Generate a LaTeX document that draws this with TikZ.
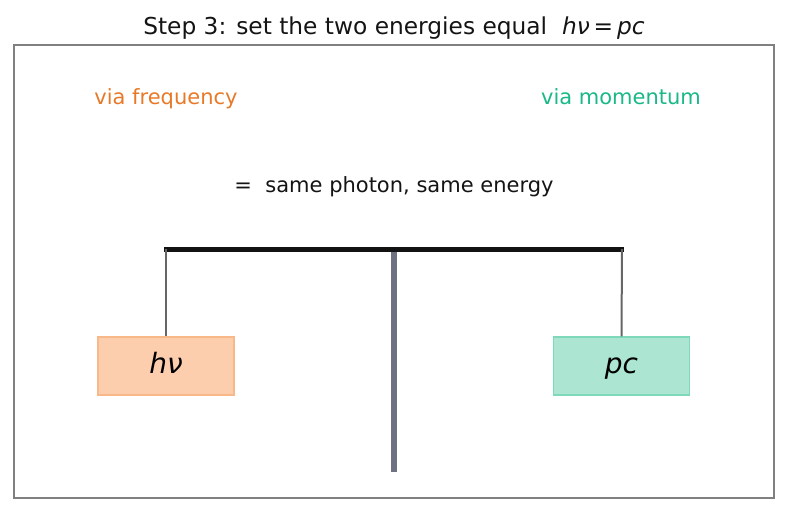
\documentclass[tikz,border=0pt]{standalone}
\usepackage{fontspec}
\setmainfont{DejaVu Sans}
\usetikzlibrary{positioning}
\definecolor{freqorange}{RGB}{232,121,40}
\definecolor{momgreen}{RGB}{26,184,135}
\definecolor{freqfill}{RGB}{252,206,174}
\definecolor{freqedge}{RGB}{248,184,136}
\definecolor{momfill}{RGB}{172,230,211}
\definecolor{momedge}{RGB}{126,216,186}
\definecolor{postgray}{RGB}{110,113,128}
\newcommand{\hnu}{\textit{hν}}
\tikzset{
  side label/.style={font=\fontsize{21}{25}\selectfont, text=#1,
    text height=16pt, text depth=5pt},
  pan box/.style={
    shape=rectangle, draw=#1edge, fill=#1fill, line width=1.2pt,
    minimum width=136pt, minimum height=58pt,
    text height=21pt, text depth=6.5pt,
    font=\fontsize{28}{32}\selectfont},
  string line/.style={line width=2pt, draw={rgb,255:red,102;green,102;blue,102}}
}
\begin{document}
\begin{tikzpicture}[x=1pt, y=-1pt]
\useasboundingbox (0,0) rectangle (787,512);

\node[font=\fontsize{23.3}{27}\selectfont, text=black!92,
  text height=17.5pt, text depth=5.5pt] (title)
  at (394,28.5) {Step 3: set the two energies equal \ \hnu\,=\,\textit{pc}};
\draw[line width=1.3pt, gray] (14,45) rectangle (774,498);

\node[side label=freqorange] (freq) at (166,98.5) {via frequency};
\node[side label=momgreen] (mom) at (621,98.5) {via momentum};
\node[font=\fontsize{21}{25}\selectfont, text=black!92,
  text height=16pt, text depth=5pt] (same)
  at (394,186.5) {=\ \ same photon, same energy};

% balance
\coordinate (beam-l) at (164,249);
\coordinate (beam-r) at (624,249);
\coordinate (post-top) at (394,249);
\coordinate (post-bot) at (394,472);
\draw[line width=6pt, postgray] (post-top) -- (post-bot);
\draw[line width=5pt, black!93] (beam-l) -- (beam-r);

\node[pan box=freq] (hnu) at (166,366) {\hnu};
\node[pan box=mom] (pc) at (621.5,366) {\textit{pc}};

\draw[string line] (166,249) -- (hnu.north);
\draw[string line] (622,249) -- (pc.north);
\end{tikzpicture}
\end{document}
